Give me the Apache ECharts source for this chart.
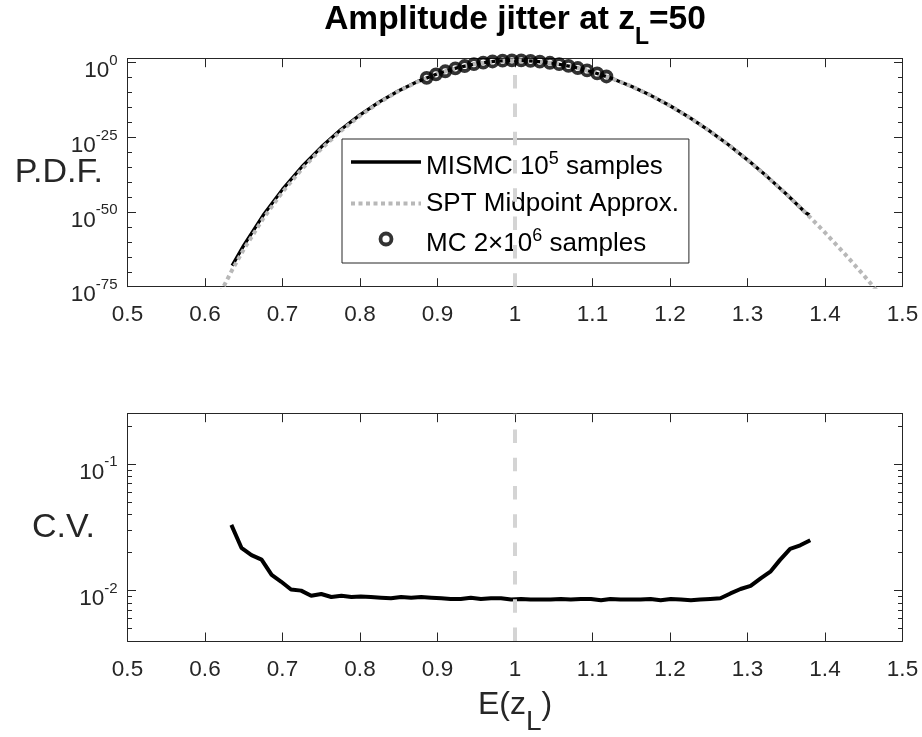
<!DOCTYPE html>
<html><head><meta charset="utf-8">
<script src="https://cdn.jsdelivr.net/npm/echarts@6/dist/echarts.min.js"></script>
<style>html,body{margin:0;padding:0;background:#fff}#c{width:922px;height:737px}</style>
</head><body><div id="c"></div>
<script>
// ---------------- data ----------------
const mismcX = [0.635, 0.65, 0.675, 0.70, 0.725, 0.75, 0.775, 0.80, 0.825, 0.85, 0.875, 0.90, 0.925, 0.95, 0.975, 1.00, 1.025, 1.05, 1.075, 1.10, 1.125, 1.15, 1.175, 1.20, 1.225, 1.25, 1.275, 1.30, 1.325, 1.35, 1.375, 1.38];
const mismcY = [1.12e-68, 6.9e-62, 7.8e-52, 3.9e-43, 1.45e-35, 5.9e-29, 3.5e-23, 3.6e-18, 8.1e-14, 4.3e-10, 5.8e-7, 2.0e-4, 1.86e-2, 0.47, 3.3, 6.3, 3.5, 0.65, 3.9e-2, 7.9e-4, 5.5e-6, 1.35e-8, 1.2e-11, 3.9e-15, 4.8e-19, 2.2e-23, 4.1e-28, 3.0e-33, 8.9e-39, 1.1e-44, 5.9e-51, 1.0e-51];

const sptX = [0.62, 0.635, 0.65, 0.675, 0.70, 0.725, 0.75, 0.775, 0.80, 0.825, 0.85, 0.875, 0.90, 0.925, 0.95, 0.975, 1.00, 1.025, 1.05, 1.075, 1.10, 1.125, 1.15, 1.175, 1.20, 1.225, 1.25, 1.275, 1.30, 1.325, 1.35, 1.375, 1.40, 1.425, 1.45, 1.475];
const sptY = [1.0e-77, 4.0e-70, 3.2e-63, 6.3e-53, 5.0e-44, 2.5e-36, 1.6e-29, 1.26e-23, 1.6e-18, 5.0e-14, 3.2e-10, 5.0e-7, 1.8e-4, 1.8e-2, 0.46, 3.2, 6.3, 3.5, 0.65, 3.9e-2, 7.9e-4, 5.5e-6, 1.35e-8, 1.2e-11, 3.9e-15, 4.8e-19, 2.2e-23, 4.1e-28, 3.0e-33, 8.9e-39, 1.1e-44, 5.9e-51, 1.4e-57, 1.4e-64, 6.6e-72, 1.45e-79];

const mcX = [0.886, 0.898, 0.910, 0.923, 0.935, 0.947, 0.959, 0.971, 0.984, 0.996, 1.008, 1.020, 1.032, 1.045, 1.057, 1.069, 1.081, 1.093, 1.106, 1.118];
const mcY = [8.7e-6, 1.3e-4, 1.4e-3, 1.35e-2, 7.9e-2, 0.35, 1.1, 2.6, 4.9, 6.2, 5.9, 4.4, 2.5, 0.98, 0.32, 8.5e-2, 1.7e-2, 2.6e-3, 2.7e-4, 2.5e-5];

const cvX = [0.634, 0.647, 0.660, 0.673, 0.686, 0.698, 0.711, 0.724, 0.737, 0.750, 0.763, 0.776, 0.789, 0.801, 0.814, 0.827, 0.840, 0.853, 0.866, 0.879, 0.892, 0.905, 0.917, 0.930, 0.943, 0.956, 0.969, 0.982, 0.995, 1.008, 1.020, 1.033, 1.046, 1.059, 1.072, 1.085, 1.098, 1.111, 1.123, 1.136, 1.149, 1.162, 1.175, 1.188, 1.201, 1.214, 1.227, 1.239, 1.252, 1.265, 1.278, 1.291, 1.304, 1.317, 1.330, 1.342, 1.355, 1.368, 1.381];
const cvY = [0.0331, 0.0218, 0.0191, 0.0176, 0.0133, 0.0118, 0.0102, 0.0100, 0.0091, 0.0094, 0.0089, 0.0091, 0.0089, 0.0090, 0.0089, 0.0088, 0.0087, 0.0089, 0.0088, 0.0089, 0.0088, 0.0087, 0.0086, 0.0086, 0.0088, 0.0086, 0.0087, 0.0087, 0.0085, 0.0086, 0.0085, 0.0085, 0.0085, 0.0086, 0.0085, 0.0086, 0.0086, 0.0084, 0.0086, 0.0085, 0.0085, 0.0085, 0.0086, 0.0084, 0.0086, 0.0085, 0.0084, 0.0085, 0.0086, 0.0087, 0.0095, 0.0103, 0.0109, 0.0125, 0.0142, 0.0175, 0.0214, 0.0228, 0.0250];

const refX = 1; // vertical dashed reference line

// axis ranges / ticks
const xMin = 0.5, xMax = 1.5, xStep = 0.1;
const pdfMin = 1e-75, pdfMax = 22.4;
const pdfMajorTicks = [1e-75, 1e-50, 1e-25, 1];
const pdfMinorTicks = [1e-5, 1e-10, 1e-15, 1e-20, 1e-30, 1e-35, 1e-40, 1e-45, 1e-55, 1e-60, 1e-65, 1e-70];
const cvMin = 0.004, cvMax = 0.25;
const cvMajorTicks = [0.01, 0.1];
const cvMinorTicks = [0.005, 0.006, 0.007, 0.008, 0.009, 0.02, 0.03, 0.04, 0.05, 0.06, 0.07, 0.08, 0.09, 0.2];

const legendText = {
  'MISMC': '{b|MISMC 10}{s|5}{b| samples}',
  'SPT': '{c|SPT Midpoint Approx.}',
  'MC': '{b|MC 2×10}{s|6}{b| samples}'
};

// ---------------- chart ----------------
const FONT = '"Liberation Sans", Arial, Helvetica, sans-serif';
const AX = '#262626';
const pairs = (xs, ys) => xs.map((x, i) => [x, ys[i]]);

// exponent axes (log10 units) only carry the decade labels / ticks;
// the data themselves are placed by the log axes.
function expLabel(v) {
  const r = Math.round(v);
  if (Math.abs(v - r) > 1e-6) return '';
  return '{b|10}{s|' + r + '}';
}
const tickRich = {
  b: {fontSize: 22.5, lineHeight: 40, verticalAlign: 'bottom', color: AX, fontFamily: FONT},
  s: {fontSize: 15, verticalAlign: 'top', padding: [10.5, 0, 0, 0], color: AX, fontFamily: FONT}
};

function xAxes(gridIndex, name) {
  const common = {
    type: 'value', gridIndex, min: xMin, max: xMax, interval: xStep,
    splitLine: {show: false},
    axisLine: {show: true, onZero: false, lineStyle: {color: AX, width: 1}},
    axisTick: {show: true, inside: true, length: 8.5, lineStyle: {color: AX, width: 1}}
  };
  const bottom = Object.assign({}, common, {
    position: 'bottom',
    axisLabel: {show: true, margin: 17, fontSize: 22.5, color: AX, fontFamily: FONT}
  });
  if (name) {
    Object.assign(bottom, {
      name: name, nameLocation: 'middle', nameGap: 48, nameMoveOverlap: false,
      nameTextStyle: {color: AX, fontFamily: FONT, rich: {
        e: {fontSize: 32, lineHeight: 47, verticalAlign: 'top', color: AX, fontFamily: FONT},
        l: {fontSize: 28, verticalAlign: 'bottom', color: AX, fontFamily: FONT}
      }}
    });
  }
  const top = Object.assign({}, common, {position: 'top', axisLabel: {show: false}});
  return [bottom, top];
}

function yAxes(gridIndex, min, max, majors, minors, name, nameGap) {
  const lmin = Math.log10(min), lmax = Math.log10(max);
  const majorExp = majors.map(v => Math.log10(v));
  const minorExp = minors.map(v => Math.log10(v));
  const dataAxis = {type: 'log', logBase: 10, gridIndex, min, max, show: false};
  const deco = (side, len, ticks, line) => ({
    type: 'value', gridIndex, min: lmin, max: lmax, position: side,
    splitLine: {show: false},
    axisLine: {show: line, onZero: false, lineStyle: {color: AX, width: 1}},
    axisLabel: {show: false},
    axisTick: {show: true, inside: true, length: len, lineStyle: {color: AX, width: 1}, customValues: ticks}
  });
  const left = deco('left', 8.5, majorExp, true);
  Object.assign(left, {
    axisLabel: {show: true, margin: 10, formatter: expLabel, rich: tickRich, color: AX,
      customValues: majorExp, showMinLabel: true, showMaxLabel: true, hideOverlap: false},
    name: name, nameLocation: 'middle', nameRotate: 0, nameGap: nameGap, nameMoveOverlap: false,
    nameTextStyle: {fontSize: 34, color: AX, fontFamily: FONT}
  });
  return [dataAxis, left, deco('right', 8.5, majorExp, true), deco('left', 4.5, minorExp, false), deco('right', 4.5, minorExp, false)];
}

const chart = echarts.init(document.getElementById('c'), null, {renderer: 'canvas'});

const vlineStyle = {color: '#d4d4d4', width: 4, type: [13.5, 14.8]};
const hiddenSymbol = {color: 'rgba(0,0,0,0)', borderWidth: 0, borderColor: 'rgba(0,0,0,0)'};

chart.setOption({
  animation: false,
  backgroundColor: '#fff',
  textStyle: {fontFamily: FONT},
  title: {
    text: '{t|Amplitude jitter at z}{l|L}{t|=50}',
    left: 515, top: 3, padding: 0, textAlign: 'center',
    textStyle: {rich: {
      t: {fontSize: 33.5, fontWeight: 'bold', lineHeight: 46, verticalAlign: 'top', color: '#000', fontFamily: FONT},
      l: {fontSize: 23, fontWeight: 'bold', verticalAlign: 'bottom', color: '#000', fontFamily: FONT}
    }}
  },
  grid: [
    {left: 127.5, top: 58.7, width: 775, height: 228},
    {left: 127.5, top: 413.7, width: 775, height: 228.6}
  ],
  xAxis: [...xAxes(0, null), ...xAxes(1, '{e|E(z}{l|L}{e|)}')],
  yAxis: [
    ...yAxes(0, pdfMin, pdfMax, pdfMajorTicks, pdfMinorTicks, 'P.D.F.', 24.5),
    ...yAxes(1, cvMin, cvMax, cvMajorTicks, cvMinorTicks, 'C.V.', 32.5)
  ],
  legend: {
    orient: 'vertical', left: 342, top: 139, padding: [11, 10, 6, 7],
    itemGap: 10.5, itemWidth: 70, itemHeight: 11,
    borderColor: AX, borderWidth: 1, backgroundColor: '#fff', borderRadius: 0,
    selectedMode: false,
    formatter: n => legendText[n],
    textStyle: {fontSize: 26, color: '#000', fontFamily: FONT, rich: {
      b: {fontSize: 26, lineHeight: 36, verticalAlign: 'bottom', color: '#000', fontFamily: FONT},
      s: {fontSize: 18, verticalAlign: 'top', padding: [6, 0, 0, 0], color: '#000', fontFamily: FONT},
      c: {fontSize: 26, lineHeight: 36, color: '#000', fontFamily: FONT}
    }},
    data: [
      {name: 'MISMC', lineStyle: {color: '#000', width: 3.3}, itemStyle: hiddenSymbol},
      {name: 'SPT', lineStyle: {color: '#b8b8b8', width: 4, type: [4, 3.5]}, itemStyle: hiddenSymbol},
      {name: 'MC', icon: 'circle', itemStyle: {color: 'rgba(0,0,0,0)', borderColor: '#000', borderWidth: 3.8}}
    ]
  },
  series: [
    {name: 'MISMC', type: 'line', xAxisIndex: 0, yAxisIndex: 0, data: pairs(mismcX, mismcY),
     symbol: 'none', showSymbol: false, z: 2,
     lineStyle: {color: '#000', width: 3.3}, itemStyle: {color: '#000'}},
    {name: 'SPT', type: 'line', xAxisIndex: 0, yAxisIndex: 0, data: pairs(sptX, sptY),
     symbol: 'none', showSymbol: false, z: 3,
     lineStyle: {color: '#b8b8b8', width: 4, type: [4, 3.5]}, itemStyle: {color: '#b8b8b8'}},
    {name: 'refTop', type: 'line', xAxisIndex: 0, yAxisIndex: 0, data: [], z: 4,
     markLine: {silent: true, symbol: ['none', 'none'], label: {show: false}, lineStyle: vlineStyle,
       data: [{xAxis: refX}]}},
    {name: 'MC', type: 'scatter', xAxisIndex: 0, yAxisIndex: 0, data: pairs(mcX, mcY),
     symbol: 'circle', symbolSize: 10, z: 5,
     itemStyle: {color: 'rgba(0,0,0,0)', borderColor: '#000', borderWidth: 3.8}},
    {name: 'CV', type: 'line', xAxisIndex: 2, yAxisIndex: 5, data: pairs(cvX, cvY),
     symbol: 'none', showSymbol: false, z: 2,
     lineStyle: {color: '#000', width: 4}, itemStyle: {color: '#000'}},
    {name: 'refBottom', type: 'line', xAxisIndex: 2, yAxisIndex: 5, data: [], z: 4,
     markLine: {silent: true, symbol: ['none', 'none'], label: {show: false}, lineStyle: vlineStyle,
       data: [{xAxis: refX}]}}
  ]
});
</script>
</body></html>
